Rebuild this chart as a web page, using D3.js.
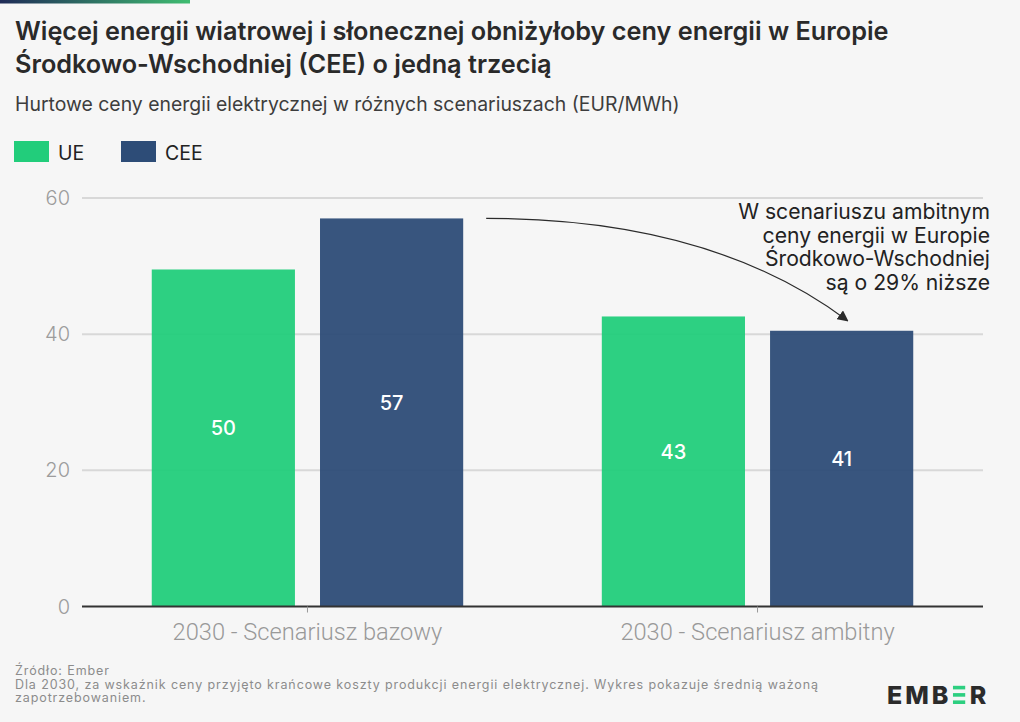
<!DOCTYPE html>
<html>
<head>
<meta charset="utf-8">
<script src="https://cdn.jsdelivr.net/npm/d3@7"></script>
<style>
  html, body { margin: 0; padding: 0; background: #f6f6f6; }
  svg { display: block; }
</style>
</head>
<body>
<script>
// ---------- DATA ----------
const categories = ["2030 - Scenariusz bazowy", "2030 - Scenariusz ambitny"];
const seriesNames = ["UE", "CEE"];
const ueValues = [49.5, 42.6];
const ceeValues = [57.0, 40.5];
const yTicks = [0, 20, 40, 60];
const titleLines = [
  "Więcej energii wiatrowej i słonecznej obniżyłoby ceny energii w Europie",
  "Środkowo-Wschodniej (CEE) o jedną trzecią"
];
const subtitle = "Hurtowe ceny energii elektrycznej w różnych scenariuszach (EUR/MWh)";
const annotationLines = [
  "W scenariuszu ambitnym",
  "ceny energii w Europie",
  "Środkowo-Wschodniej",
  "są o 29% niższe"
];
const footerLines = [
  "Źródło: Ember",
  "Dla 2030, za wskaźnik ceny przyjęto krańcowe koszty produkcji energii elektrycznej. Wykres pokazuje średnią ważoną",
  "zapotrzebowaniem."
];

// ---------- STYLE ----------
const W = 1020, H = 722;
const colors = { UE: "#22cd7b", CEE: "#2d4c77" };
const FONT = "Inter, 'Noto Sans', sans-serif";

const svg = d3.select("body").append("svg")
  .attr("width", W).attr("height", H)
  .style("background", "#f6f6f6");

function fitText(sel, target) {
  const w = sel.node().getComputedTextLength();
  const fs = parseFloat(sel.attr("font-size"));
  const nfs = fs * target / w;
  sel.attr("font-size", nfs);
  return nfs;
}
function fitSpacing(sel, target) {
  const node = sel.node();
  const w = node.getComputedTextLength();
  const n = node.textContent.length;
  const ls = (target - w) / (n - 1);
  return ls;
}

// top gradient strip
const defs = svg.append("defs");
const grad = defs.append("linearGradient").attr("id", "topgrad");
grad.append("stop").attr("offset", "0%").attr("stop-color", "#1f2b57");
grad.append("stop").attr("offset", "100%").attr("stop-color", "#3fbd71");
svg.append("rect").attr("x", 0).attr("y", 0).attr("width", 190).attr("height", 3.5)
  .attr("fill", "url(#topgrad)");

// arrow marker
defs.append("marker")
  .attr("id", "arrowhead")
  .attr("viewBox", "0 0 10 10")
  .attr("refX", 9).attr("refY", 5)
  .attr("markerWidth", 11).attr("markerHeight", 11)
  .attr("markerUnits", "userSpaceOnUse")
  .attr("orient", "auto")
  .append("path").attr("d", "M0,0 L10,5 L0,10 Z").attr("fill", "#2b2b2b");

// ---------- TITLE ----------
const t1 = svg.append("text").attr("x", 15).attr("y", 40)
  .attr("font-family", FONT).attr("font-weight", 600).attr("font-size", 21.5)
  .attr("fill", "#2a2a2a").text(titleLines[0]);
const tfs = fitText(t1, 874);
svg.append("text").attr("x", 15).attr("y", 73)
  .attr("font-family", FONT).attr("font-weight", 600).attr("font-size", tfs)
  .attr("fill", "#2a2a2a").text(titleLines[1]);

const st = svg.append("text").attr("x", 15).attr("y", 111)
  .attr("font-family", FONT).attr("font-weight", 400).attr("font-size", 16.5)
  .attr("fill", "#3d3d3d").text(subtitle);
fitText(st, 665);

// ---------- LEGEND ----------
const legendX = [14, 121];
seriesNames.forEach((s, i) => {
  svg.append("rect").attr("x", legendX[i]).attr("y", 141).attr("width", 35).attr("height", 21)
    .attr("fill", colors[s]);
  svg.append("text").attr("x", legendX[i] + 44).attr("y", 160)
    .attr("font-family", FONT).attr("font-size", 19.5).attr("fill", "#222")
    .text(s);
});

// ---------- SCALES ----------
const x0 = d3.scaleBand().domain(categories).range([82, 983])
  .paddingInner(0.308).paddingOuter(0.155);
const x1 = d3.scaleBand().domain(seriesNames).range([0, x0.bandwidth()])
  .paddingInner(0.149);
const y = d3.scaleLinear().domain([0, 60]).range([606.5, 198]);

const rows = categories.map((c, i) => ({ cat: c, UE: ueValues[i], CEE: ceeValues[i] }));

// grid
const grid = svg.append("g");
grid.selectAll("line").data(yTicks.filter(d => d > 0)).join("line")
  .attr("x1", 82).attr("x2", 983)
  .attr("y1", d => y(d)).attr("y2", d => y(d))
  .attr("stroke", "#d8d8d8").attr("stroke-width", 2);

// y labels
svg.append("g").selectAll("text").data(yTicks).join("text")
  .attr("x", 70).attr("y", d => y(d) + 7)
  .attr("text-anchor", "end")
  .attr("font-family", FONT).attr("font-weight", 300).attr("font-size", 20).attr("fill", "#9c9c9c")
  .text(d => d);

// bars
const groups = svg.append("g").selectAll("g").data(rows).join("g")
  .attr("transform", d => `translate(${x0(d.cat)},0)`);
groups.selectAll("rect").data(d => seriesNames.map(s => ({ s, v: d[s] }))).join("rect")
  .attr("x", d => x1(d.s)).attr("width", x1.bandwidth())
  .attr("y", d => y(d.v)).attr("height", d => y(0) - y(d.v))
  .attr("fill", d => colors[d.s]).attr("fill-opacity", 0.95);
groups.selectAll("text").data(d => seriesNames.map(s => ({ s, v: d[s] }))).join("text")
  .attr("x", d => x1(d.s) + x1.bandwidth() / 2)
  .attr("y", d => (y(d.v) + y(0)) / 2 - 2.5)
  .attr("text-anchor", "middle")
  .attr("font-family", FONT).attr("font-weight", 500).attr("font-size", 20)
  .attr("fill", "#ffffff")
  .text(d => Math.round(d.v));

// baseline & ticks
svg.append("line").attr("x1", 82).attr("x2", 983).attr("y1", y(0)).attr("y2", y(0))
  .attr("stroke", "#333").attr("stroke-width", 2);
svg.append("g").selectAll("line").data(categories).join("line")
  .attr("x1", d => x0(d) + x0.bandwidth() / 2).attr("x2", d => x0(d) + x0.bandwidth() / 2)
  .attr("y1", y(0)).attr("y2", y(0) + 6)
  .attr("stroke", "#999").attr("stroke-width", 1);

// x labels
const xl = svg.append("g").selectAll("text").data(categories).join("text")
  .attr("x", d => x0(d) + x0.bandwidth() / 2).attr("y", 640)
  .attr("text-anchor", "middle")
  .attr("font-family", "Roboto, 'Liberation Sans', sans-serif").attr("font-weight", 300)
  .attr("font-size", 21)
  .attr("fill", "#999999")
  .text(d => d);
const xfs = fitText(d3.select(xl.nodes()[0]), 270);
xl.attr("font-size", xfs);

// ---------- ANNOTATION ----------
const startX = x0(categories[0]) + x1("CEE") + x1.bandwidth() + 23;
const startY = y(ceeValues[0]);
const endX = x0(categories[1]) + x1("CEE") + x1.bandwidth() / 2 + 6;
const endY = y(ceeValues[1]) - 10;
const ctrlX = endX - (endY - startY) / 0.75;
const p = d3.path();
p.moveTo(startX, startY);
p.quadraticCurveTo(ctrlX, startY, endX, endY);
svg.append("path").attr("d", p.toString())
  .attr("fill", "none").attr("stroke", "#2b2b2b").attr("stroke-width", 1.2)
  .attr("marker-end", "url(#arrowhead)");

const ann = svg.append("g").selectAll("text").data(annotationLines).join("text")
  .attr("x", 990).attr("y", (d, i) => 219 + i * 23.7)
  .attr("text-anchor", "end")
  .attr("font-family", FONT).attr("font-size", 18).attr("fill", "#222")
  .text(d => d);
const afs = fitText(d3.select(ann.nodes()[0]), 252);
ann.attr("font-size", afs);

// ---------- FOOTER ----------
const ft = svg.append("g").selectAll("text").data(footerLines).join("text")
  .attr("x", 15).attr("y", (d, i) => 675 + i * 13.5)
  .attr("font-family", FONT).attr("font-size", 12.5).attr("fill", "#8c8c8c")
  .text(d => d);
const fls = fitSpacing(d3.select(ft.nodes()[1]), 803);
ft.attr("letter-spacing", fls);

// ---------- LOGO ----------
const logo = svg.append("text").attr("x", 887).attr("y", 704)
  .attr("font-family", FONT).attr("font-weight", 800).attr("font-size", 25)
  .attr("letter-spacing", 3).attr("fill", "#2b2b2b");
["E", "M", "B", "E", "R"].forEach((ch, i) => {
  logo.append("tspan").attr("fill", i === 3 ? "transparent" : "#2b2b2b").text(ch);
});
const ext = logo.node().getExtentOfChar(3);
const capTop = 704 - 18.2;
const barH = 3.6;
[0, 1, 2].forEach(k => {
  svg.append("rect")
    .attr("x", ext.x + 1.5).attr("width", ext.width - 6)
    .attr("y", capTop + k * (18.2 - barH) / 2).attr("height", barH)
    .attr("fill", "#2dcf80");
});
</script>
</body>
</html>
